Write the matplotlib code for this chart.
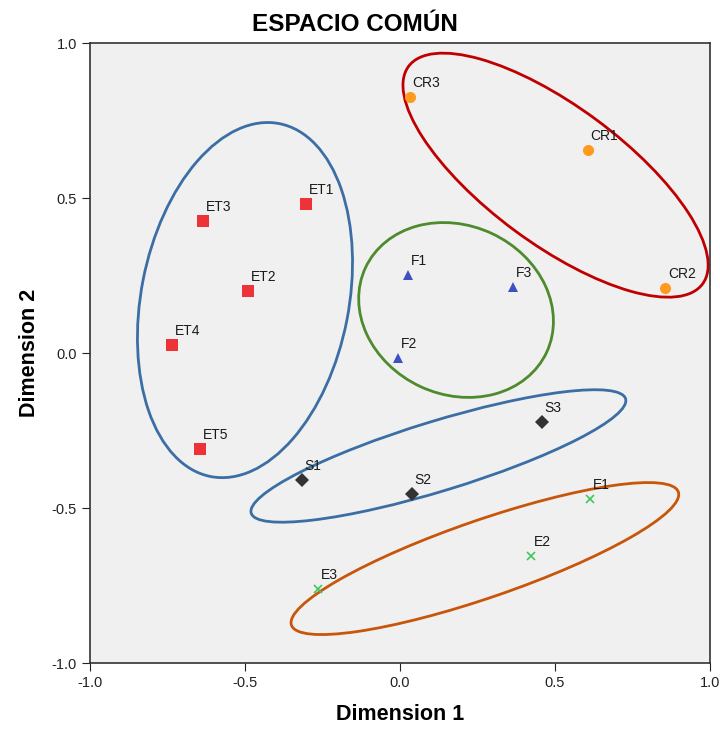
import matplotlib
matplotlib.use('Agg')
import matplotlib.pyplot as plt
from matplotlib.patches import Ellipse

plt.rcParams['font.family'] = ['Liberation Sans', 'DejaVu Sans']
plt.rcParams['axes.unicode_minus'] = False

# puntos del espacio comun
cr_names = ['CR1', 'CR2', 'CR3']
cr_x = [0.606, 0.855, 0.032]
cr_y = [0.655, 0.210, 0.826]

et_names = ['ET1', 'ET2', 'ET3', 'ET4', 'ET5']
et_x = [-0.303, -0.490, -0.635, -0.735, -0.645]
et_y = [0.481, 0.200, 0.426, 0.026, -0.310]

f_names = ['F1', 'F2', 'F3']
f_x = [0.026, -0.006, 0.365]
f_y = [0.252, -0.016, 0.213]

s_names = ['S1', 'S2', 'S3']
s_x = [-0.316, 0.039, 0.458]
s_y = [-0.410, -0.455, -0.223]

e_names = ['E1', 'E2', 'E3']
e_x = [0.613, 0.423, -0.265]
e_y = [-0.471, -0.655, -0.761]

# grupos: centro x, centro y, ancho, alto, angulo, color
grp_cx = [-0.500, 0.502, 0.181, 0.124, 0.274]
grp_cy = [0.171, 0.574, 0.139, -0.332, -0.663]
grp_w = [0.67, 1.18, 0.645, 1.263, 1.32]
grp_h = [1.16, 0.444, 0.545, 0.225, 0.25]
grp_ang = [-11, -36.5, -25, 17, 19]
grp_col = ['#3a6ea5', '#c00000', '#4e8a2e', '#3a6ea5', '#c8560a']

fig = plt.figure(figsize=(7.2, 7.31), dpi=100)
ax = fig.add_axes([0.125, 0.093, 0.861, 0.848])
ax.set_facecolor('#f0f0f0')

def puntos(xs, ys, names, marker, color, ms, mew=0):
    ax.plot(xs, ys, linestyle='none', marker=marker, color=color,
            markersize=ms, markeredgewidth=mew, zorder=3)
    for x, y, n in zip(xs, ys, names):
        ax.annotate(n, (x, y), xytext=(2, 7), textcoords='offset points',
                    fontsize=10, color='#1a1a1a')

puntos(cr_x, cr_y, cr_names, 'o', '#ff9a1f', 8)
puntos(et_x, et_y, et_names, 's', '#ee3338', 8)
puntos(f_x, f_y, f_names, '^', '#3f50c0', 7.5)
puntos(s_x, s_y, s_names, 'D', '#333333', 7.5)
puntos(e_x, e_y, e_names, 'x', '#3cc85a', 5.5, mew=1.2)

for i in range(len(grp_cx)):
    ax.add_patch(Ellipse((grp_cx[i], grp_cy[i]), grp_w[i], grp_h[i],
                         angle=grp_ang[i], fill=False,
                         edgecolor=grp_col[i], linewidth=2, zorder=2))

ax.set_xlim(-1, 1)
ax.set_ylim(-1, 1)
ax.set_xticks([-1.0, -0.5, 0.0, 0.5, 1.0])
ax.set_yticks([-1.0, -0.5, 0.0, 0.5, 1.0])
ax.tick_params(direction='out', length=6, labelsize=10.5, colors='#222222')
for sp in ax.spines.values():
    sp.set_color('#333333')
    sp.set_linewidth(1.2)

# el titulo va algo a la izquierda del centro
ax.text(0.427, 1.012, 'ESPACIO COMÚN', transform=ax.transAxes,
        ha='center', va='bottom', fontsize=17.5, fontweight='bold')
ax.set_xlabel('Dimension 1', fontsize=15.5, fontweight='bold', labelpad=10)
ax.set_ylabel('Dimension 2', fontsize=15.5, fontweight='bold', labelpad=8)

fig.savefig('out.png', dpi=100)
